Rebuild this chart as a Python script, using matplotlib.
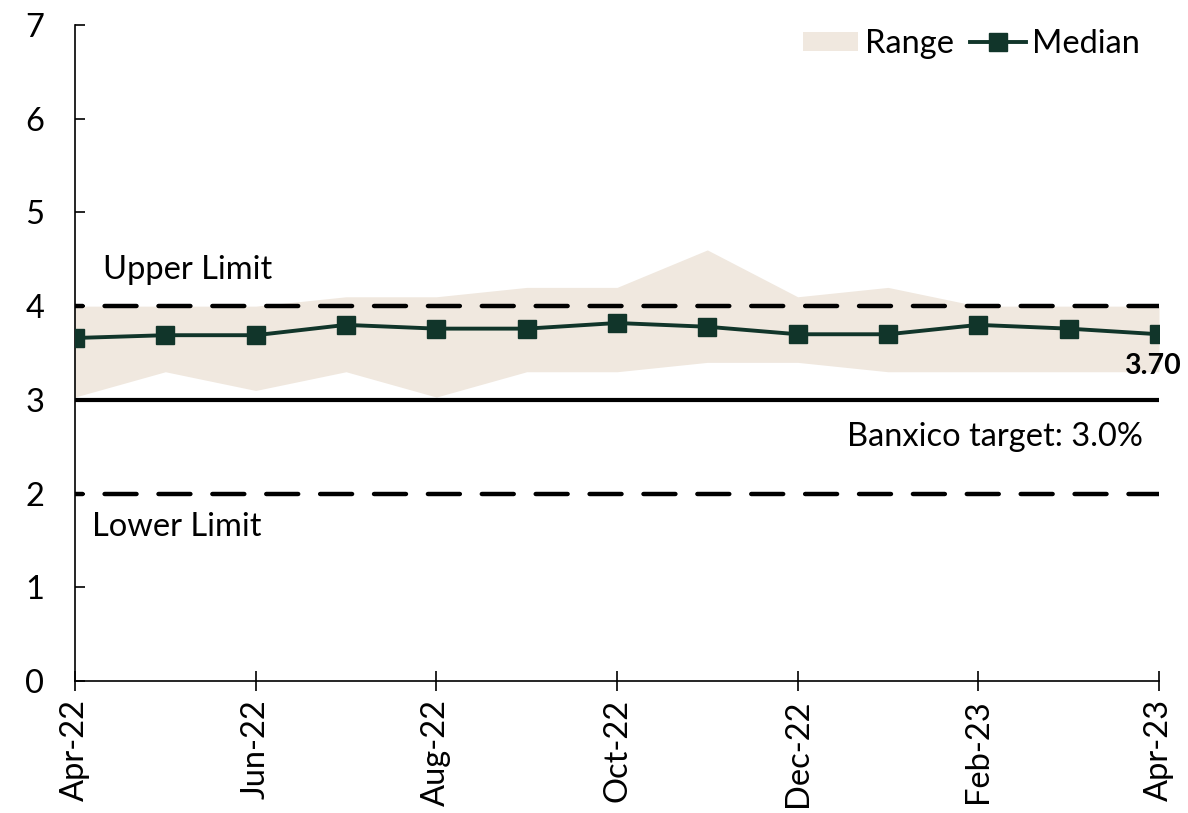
import matplotlib
matplotlib.use("Agg")
import matplotlib.pyplot as plt
from matplotlib.patches import Patch
from matplotlib.lines import Line2D

plt.rcParams['font.family'] = ['Lato', 'DejaVu Sans']
plt.rcParams['lines.scale_dashes'] = False

months = ["Apr-22", "May-22", "Jun-22", "Jul-22", "Aug-22", "Sep-22", "Oct-22",
          "Nov-22", "Dec-22", "Jan-23", "Feb-23", "Mar-23", "Apr-23"]
median = [3.66, 3.69, 3.69, 3.80, 3.76, 3.76, 3.82, 3.78, 3.70, 3.70, 3.80, 3.76, 3.70]
range_high = [4.00, 4.00, 4.00, 4.10, 4.10, 4.20, 4.20, 4.60, 4.10, 4.20, 4.00, 4.00, 4.00]
range_low = [3.03, 3.30, 3.10, 3.30, 3.03, 3.30, 3.30, 3.40, 3.40, 3.30, 3.30, 3.30, 3.30]
target = 3.0
upper_limit = 4.0
lower_limit = 2.0

FILL = "#F0E8DF"
GREEN = "#11352A"
FS = 23.5

fig = plt.figure(figsize=(11.88, 8.13), dpi=100)
ax = fig.add_axes([75 / 1188, 1 - 681 / 813, (1159 - 75) / 1188, (681 - 25) / 813])

x = list(range(len(months)))

ax.fill_between(x, range_low, range_high, color=FILL, lw=0, zorder=1)

dash_style = (17.5, (23.0, 15.8))
ax.plot(x, [upper_limit] * len(x), color="black", lw=3.2, ls=dash_style,
        dash_capstyle="round", zorder=2)
ax.plot(x, [lower_limit] * len(x), color="black", lw=3.2, ls=dash_style,
        dash_capstyle="round", zorder=2)
ax.plot(x, [target] * len(x), color="black", lw=3.0, zorder=2,
        solid_capstyle="butt")

ax.plot(x, median, color=GREEN, lw=2.8, marker="s", markersize=13.5,
        markerfacecolor=GREEN, markeredgecolor=GREEN, zorder=3)

ax.annotate(f"{median[-1]:.2f}", xy=(x[-1], median[-1]), xytext=(16, -23),
            textcoords="offset points", ha="right", va="center",
            fontsize=20.5, fontweight="bold", color="black",
            annotation_clip=False)

ax.text(0.31, 4.39, "Upper Limit", fontsize=FS, va="center", ha="left")
ax.text(0.19, 1.64, "Lower Limit", fontsize=FS, va="center", ha="left")
ax.text(11.82, 2.60, "Banxico target: 3.0%", fontsize=FS, va="center", ha="right")

ax.set_xlim(0, len(months) - 1)
ax.set_ylim(0, 7)
ax.set_yticks(range(0, 8))
ax.set_xticks(x[::2])
ax.set_xticklabels(months[::2], rotation=90)

for s in ["top", "right"]:
    ax.spines[s].set_visible(False)
for s in ["left", "bottom"]:
    ax.spines[s].set_linewidth(1.2)
    ax.spines[s].set_color("black")

ax.tick_params(axis="y", direction="in", length=7, width=1.2, pad=22,
               labelsize=FS)
ax.tick_params(axis="x", direction="inout", length=14.4, width=1.2, pad=6,
               labelsize=FS)

handles = [Patch(facecolor=FILL, edgecolor="none", label="Range"),
           Line2D([0], [0], color=GREEN, lw=2.8, marker="s", markersize=13.5,
                  label="Median")]
ax.legend(handles=handles, loc="upper right", ncol=2, frameon=False,
          fontsize=FS, bbox_to_anchor=(1140 / 1188, 1 - 29 / 813),
          bbox_transform=fig.transFigure, borderpad=0, borderaxespad=0,
          handlelength=1.7, handletextpad=0.2, columnspacing=0.5,
          handleheight=0.55)

fig.savefig("out.png", dpi=100)
